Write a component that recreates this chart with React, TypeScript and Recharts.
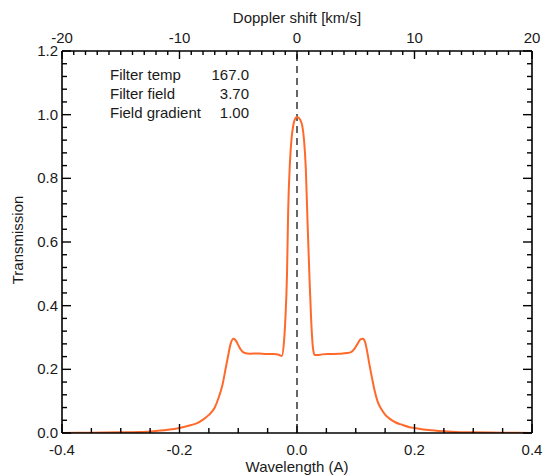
import React from 'react';
import { LineChart, Line, XAxis, YAxis, ReferenceLine, Customized } from 'recharts';

const wavelength = [
  -0.4, -0.35, -0.3, -0.27, -0.25, -0.22, -0.2, -0.18, -0.17, -0.16, -0.15, -0.14, -0.133, -0.127,
  -0.122, -0.117, -0.113, -0.108, -0.104, -0.1, -0.095, -0.09, -0.08, -0.065, -0.053, -0.04, -0.031,
  -0.026, -0.022, -0.02, -0.017, -0.015, -0.012, -0.009, -0.006, -0.003, 0, 0.003, 0.006, 0.009,
  0.012, 0.015, 0.018, 0.021, 0.024, 0.027, 0.03, 0.035, 0.043, 0.055, 0.072, 0.085, 0.092, 0.098,
  0.103, 0.108, 0.112, 0.116, 0.12, 0.123, 0.128, 0.132, 0.137, 0.143, 0.15, 0.157, 0.168, 0.18,
  0.19, 0.203, 0.22, 0.243, 0.27, 0.3, 0.35, 0.4,
];
const transmission = [
  0.0, 0.001, 0.002, 0.003, 0.005, 0.01, 0.016, 0.025, 0.031, 0.042, 0.057, 0.08, 0.113, 0.15,
  0.197, 0.245, 0.28, 0.296, 0.29, 0.276, 0.26, 0.252, 0.249, 0.25, 0.248, 0.248, 0.246,
  0.242, 0.29, 0.35, 0.5, 0.7, 0.85, 0.93, 0.97, 0.988, 0.993, 0.99, 0.982, 0.965,
  0.92, 0.83, 0.66, 0.5, 0.36, 0.27, 0.245, 0.245, 0.247, 0.248, 0.249, 0.251, 0.254, 0.265,
  0.28, 0.294, 0.296, 0.285, 0.25, 0.218, 0.17, 0.134, 0.1, 0.077, 0.058, 0.046, 0.033, 0.025,
  0.019, 0.015, 0.01, 0.006, 0.003, 0.002, 0.001, 0.0,
];

const wavelengthTicks = [-0.4, -0.35, -0.3, -0.25, -0.2, -0.15, -0.1, -0.05, 0, 0.05, 0.1, 0.15, 0.2, 0.25, 0.3, 0.35, 0.4];
const wavelengthLabels = ['-0.4', '-0.2', '0.0', '0.2', '0.4'];
// Doppler shift (km/s) ticks on the top axis; 20 km/s corresponds to 0.4 A
const dopplerPerAngstrom = 50;
const dopplerTicks = Array.from({ length: 41 }, (_, i) => i - 20);
const dopplerLabels = ['-20', '-10', '0', '10', '20'];
const transmissionTicks = [
  0, 0.04, 0.08, 0.12, 0.16, 0.2, 0.24, 0.28, 0.32, 0.36, 0.4, 0.44, 0.48, 0.52, 0.56, 0.6,
  0.64, 0.68, 0.72, 0.76, 0.8, 0.84, 0.88, 0.92, 0.96, 1.0, 1.04, 1.08, 1.12, 1.16, 1.2,
];
const transmissionLabels = ['0.0', '0.2', '0.4', '0.6', '0.8', '1.0', '1.2'];

const infoNames = ['Filter temp', 'Filter field', 'Field gradient'];
const infoValues = ['167.0', '3.70', '1.00'];

const data = wavelength.map((w, i) => ({ w, t: transmission[i] }));
const dopplerTickPositions = dopplerTicks.map((d) => d / dopplerPerAngstrom);

const FONT = '"Liberation Sans", Arial, Helvetica, sans-serif';
const TXT = '#1a1a1a';
const FS = 15;

const fmtW = (v: number) => (Math.abs(v) < 1e-9 ? '0.0' : v.toFixed(1));
const fmtT = (v: number) => v.toFixed(1);

const BottomTick = (props: any) => {
  const { x, y, payload } = props;
  const v = payload.value as number;
  const k = Math.round(v * 20);
  const major = k % 4 === 0;
  const lbl = fmtW(v);
  return (
    <g>
      <line x1={x} x2={x} y1={y} y2={y - (major ? 9 : 5)} stroke="#000" strokeWidth={1.4} />
      {major && wavelengthLabels.includes(lbl) && (
        <text x={x} y={y + 22} textAnchor="middle" fontSize={FS} fontFamily={FONT} fill={TXT}>{lbl}</text>
      )}
    </g>
  );
};

const TopTick = (props: any) => {
  const { x, y, payload } = props;
  const d = Math.round((payload.value as number) * dopplerPerAngstrom);
  const lbl = String(d);
  const major = dopplerLabels.includes(lbl);
  return (
    <g>
      <line x1={x} x2={x} y1={y} y2={y + (major ? 8 : 4)} stroke="#000" strokeWidth={1.4} />
      {major && (
        <text x={x} y={y - 8} textAnchor="middle" fontSize={FS} fontFamily={FONT} fill={TXT}>{lbl}</text>
      )}
    </g>
  );
};

const LeftTick = (props: any) => {
  const { x, y, payload } = props;
  const v = payload.value as number;
  const major = Math.round(v * 25) % 5 === 0;
  const lbl = fmtT(v);
  return (
    <g>
      <line x1={x} x2={x + (major ? 9 : 5)} y1={y} y2={y} stroke="#000" strokeWidth={1.4} />
      {major && transmissionLabels.includes(lbl) && (
        <text x={x - 4} y={y + 5} textAnchor="end" fontSize={FS} fontFamily={FONT} fill={TXT}>{lbl}</text>
      )}
    </g>
  );
};

const RightTick = (props: any) => {
  const { x, y, payload } = props;
  const v = payload.value as number;
  const major = Math.round(v * 25) % 5 === 0;
  return <line x1={x} x2={x - (major ? 9 : 5)} y1={y} y2={y} stroke="#000" strokeWidth={1.4} />;
};

const Annotations = () => (
  <g fontFamily={FONT} fill={TXT} fontSize={FS}>
    <text x={297} y={23} textAnchor="middle">Doppler shift [km/s]</text>
    <text x={297} y={472} textAnchor="middle">Wavelength (A)</text>
    <text x={0} y={0} textAnchor="middle" transform="translate(23,240) rotate(-90)">Transmission</text>
    {infoNames.map((n, i) => (
      <text key={n} x={110} y={80 + i * 19}>{n}</text>
    ))}
    {infoValues.map((v, i) => (
      <text key={v} x={249} y={80 + i * 19} textAnchor="end">{v}</text>
    ))}
  </g>
);

export default function App() {
  return (
    <div style={{ position: 'absolute', left: 0, top: 0, width: 545, height: 475, background: '#fff' }}>
      <LineChart width={545} height={475} data={data} margin={{ top: 21, right: 0, bottom: 12, left: 12 }}>
        <XAxis
          xAxisId="bottom"
          dataKey="w"
          type="number"
          domain={[-0.4, 0.4]}
          ticks={wavelengthTicks}
          interval={0}
          tick={<BottomTick />}
          tickLine={false}
          tickSize={0}
          tickMargin={0}
          height={30}
          axisLine={{ stroke: '#000', strokeWidth: 1.6 }}
          allowDataOverflow
        />
        <XAxis
          xAxisId="top"
          dataKey="w"
          orientation="top"
          type="number"
          domain={[-0.4, 0.4]}
          ticks={dopplerTickPositions}
          interval={0}
          tick={<TopTick />}
          tickLine={false}
          tickSize={0}
          tickMargin={0}
          height={30}
          axisLine={{ stroke: '#000', strokeWidth: 1.6 }}
          allowDataOverflow
        />
        <YAxis
          yAxisId="left"
          type="number"
          domain={[0, 1.2]}
          ticks={transmissionTicks}
          interval={0}
          tick={<LeftTick />}
          tickLine={false}
          tickSize={0}
          tickMargin={0}
          width={50}
          axisLine={{ stroke: '#000', strokeWidth: 1.6 }}
          allowDataOverflow
        />
        <YAxis
          yAxisId="right"
          orientation="right"
          type="number"
          domain={[0, 1.2]}
          ticks={transmissionTicks}
          interval={0}
          tick={<RightTick />}
          tickLine={false}
          tickSize={0}
          tickMargin={0}
          width={13}
          axisLine={{ stroke: '#000', strokeWidth: 1.6 }}
          allowDataOverflow
        />
        <ReferenceLine xAxisId="bottom" yAxisId="left" x={0} stroke="#666666" strokeWidth={2} strokeDasharray="7 5" />
        <Line
          xAxisId="bottom"
          yAxisId="left"
          dataKey="t"
          type="monotone"
          stroke="#ff6a2b"
          strokeWidth={2}
          dot={false}
          isAnimationActive={false}
        />
        <Customized component={<Annotations />} />
      </LineChart>
    </div>
  );
}
